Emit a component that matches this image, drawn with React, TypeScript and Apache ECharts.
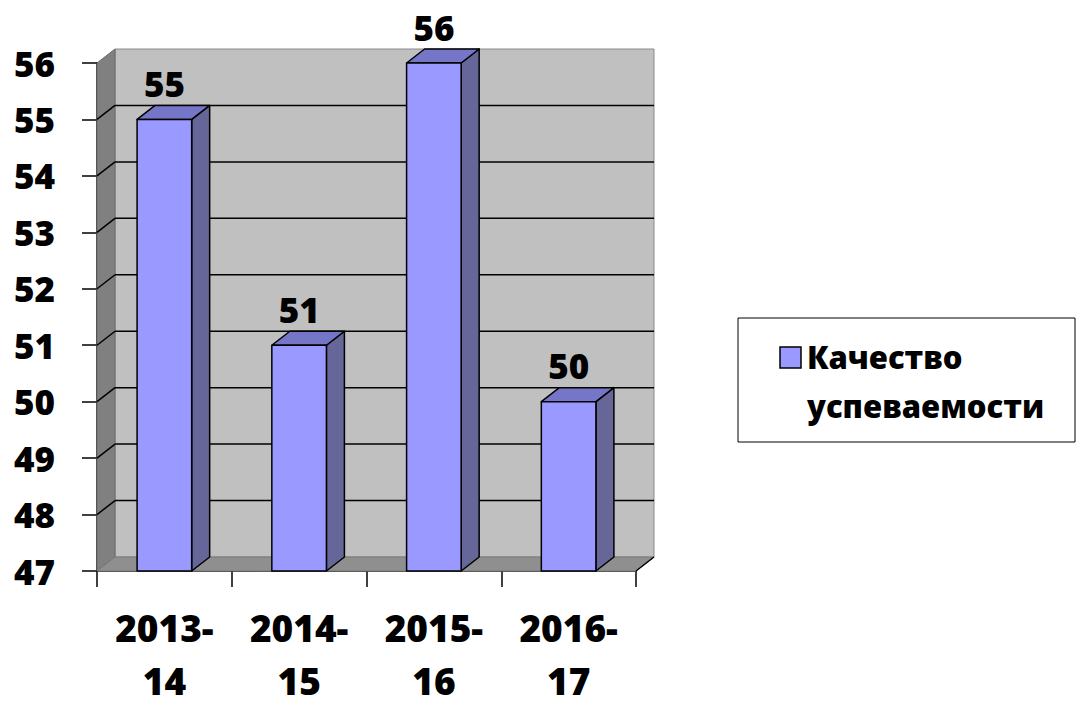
import React, { useEffect, useRef } from "react";
import * as echarts from "echarts";

const categories = ["2013-14", "2014-15", "2015-16", "2016-17"];
const values = [55, 51, 56, 50];
const seriesName = "Качество успеваемости";
const legendLines = ["Качество", "успеваемости"];
const yMin = 47;
const yMax = 56;
const yTicks = [47, 48, 49, 50, 51, 52, 53, 54, 55, 56];

const DX = 18;
const DY = -14;
const FONT = "'Open Sans', 'Noto Sans', sans-serif";
const W = 800;

export default function App() {
  const ref = useRef<HTMLDivElement>(null);
  useEffect(() => {
    if (!ref.current) return;
    const chart = echarts.init(ref.current, null, { renderer: "svg" });

    const wallsRender = (params: any, api: any) => {
      const band = api.size([1, 0])[0];
      const c0 = api.coord([0, yMin]);
      const left = c0[0] - band / 2;
      const right = left + band * categories.length;
      const yBottom = c0[1];
      const yTop = api.coord([0, yMax])[1];
      const children: any[] = [];
      children.push({
        type: "rect",
        shape: { x: left + DX, y: yTop + DY, width: right - left, height: yBottom - yTop },
        style: { fill: "#c0c0c0", stroke: "#8a8a8a", lineWidth: 1 },
      });
      children.push({
        type: "polygon",
        shape: { points: [[left, yTop], [left + DX, yTop + DY], [left + DX, yBottom + DY], [left, yBottom]] },
        style: { fill: "#808080", stroke: "#6a6a6a", lineWidth: 1 },
      });
      children.push({
        type: "polygon",
        shape: { points: [[left, yBottom], [left + DX, yBottom + DY], [right + DX, yBottom + DY], [right, yBottom]] },
        style: { fill: "#8f8f8f", stroke: "#7a7a7a", lineWidth: 1 },
      });
      yTicks.forEach((t) => {
        if (t === yMin || t === yMax) return;
        const y = api.coord([0, t])[1];
        children.push({
          type: "line",
          shape: { x1: left + DX, y1: y + DY, x2: right + DX, y2: y + DY },
          style: { stroke: "#000", lineWidth: 1.5 },
        });
        children.push({
          type: "line",
          shape: { x1: left, y1: y, x2: left + DX, y2: y + DY },
          style: { stroke: "#000", lineWidth: 1.5 },
        });
      });
      children.push({
        type: "line",
        shape: { x1: right, y1: yBottom, x2: right + DX, y2: yBottom + DY },
        style: { stroke: "#000", lineWidth: 1.5 },
      });
      return { type: "group", children };
    };

    const barRender = (params: any, api: any) => {
      const idx = api.value(0);
      const val = api.value(1);
      const band = api.size([1, 0])[0];
      const base = api.coord([idx, yMin]);
      const top = api.coord([idx, val]);
      const w = band * 0.405;
      const x1 = base[0] - w / 2;
      const x2 = base[0] + w / 2;
      const yb = base[1];
      const yt = top[1];
      const stroke = { stroke: "#000", lineWidth: 1.5, lineJoin: "round" };
      return {
        type: "group",
        children: [
          {
            type: "polygon",
            shape: { points: [[x2, yt], [x2 + DX, yt + DY], [x2 + DX, yb + DY], [x2, yb]] },
            style: { fill: "#666699", ...stroke },
          },
          {
            type: "polygon",
            shape: { points: [[x1, yt], [x1 + DX, yt + DY], [x2 + DX, yt + DY], [x2, yt]] },
            style: { fill: "#7676C8", ...stroke },
          },
          {
            type: "rect",
            shape: { x: x1, y: yt, width: w, height: yb - yt },
            style: { fill: "#9999FF", ...stroke },
          },
          {
            type: "text",
            x: base[0],
            y: yt + DY - 22,
            style: {
              text: String(val),
              align: "center",
              verticalAlign: "middle",
              fontSize: 35,
              fontWeight: W,
              fontFamily: FONT,
              fill: "#000",
            },
          },
        ],
      };
    };

    chart.setOption({
      animation: false,
      backgroundColor: "#ffffff",
      grid: { left: 97, top: 63, width: 539, height: 518, containLabel: false },
      xAxis: {
        type: "category",
        data: categories,
        axisLine: { show: true, lineStyle: { color: "#000", width: 1.5 } },
        axisTick: { show: true, length: 16, lineStyle: { color: "#000", width: 1.5 } },
        axisLabel: {
          margin: 30,
          formatter: (v: string) => v.replace("-", "-\n"),
          fontSize: 37,
          fontWeight: W,
          fontFamily: FONT,
          color: "#000",
          lineHeight: 53,
        },
        splitLine: { show: false },
      },
      yAxis: {
        type: "value",
        min: yMin,
        max: yMax,
        interval: 1,
        axisLine: { show: true, lineStyle: { color: "#000", width: 1.5 } },
        axisTick: { show: true, length: 15, lineStyle: { color: "#000", width: 1.5 } },
        axisLabel: {
          margin: 42,
          fontSize: 35,
          fontWeight: W,
          fontFamily: FONT,
          color: "#000",
        },
        splitLine: { show: false },
      },
      series: [
        {
          type: "custom",
          name: "walls",
          renderItem: wallsRender,
          data: [[0, yMin]],
          z: 1,
          silent: true,
        },
        {
          type: "custom",
          name: seriesName,
          renderItem: barRender,
          data: values.map((v, i) => [i, v]),
          z: 3,
        },
      ],
      graphic: [
        {
          type: "rect",
          shape: { x: 738, y: 318, width: 337, height: 124 },
          style: { fill: "#fff", stroke: "#000", lineWidth: 1 },
        },
        {
          type: "rect",
          shape: { x: 780, y: 347, width: 21, height: 21 },
          style: { fill: "#9999FF", stroke: "#000", lineWidth: 1.5 },
        },
        {
          type: "text",
          x: 807,
          y: 357,
          style: {
            text: legendLines[0],
            fontSize: 31,
            fontWeight: W,
            fontFamily: FONT,
            fill: "#000",
            verticalAlign: "middle",
          },
        },
        {
          type: "text",
          x: 807,
          y: 406,
          style: {
            text: legendLines[1],
            fontSize: 31,
            fontWeight: W,
            fontFamily: FONT,
            fill: "#000",
            verticalAlign: "middle",
          },
        },
      ],
    });
    return () => chart.dispose();
  }, []);
  return (
    <div
      ref={ref}
      style={{ position: "absolute", left: 0, top: 0, width: 1077, height: 707 }}
    />
  );
}
